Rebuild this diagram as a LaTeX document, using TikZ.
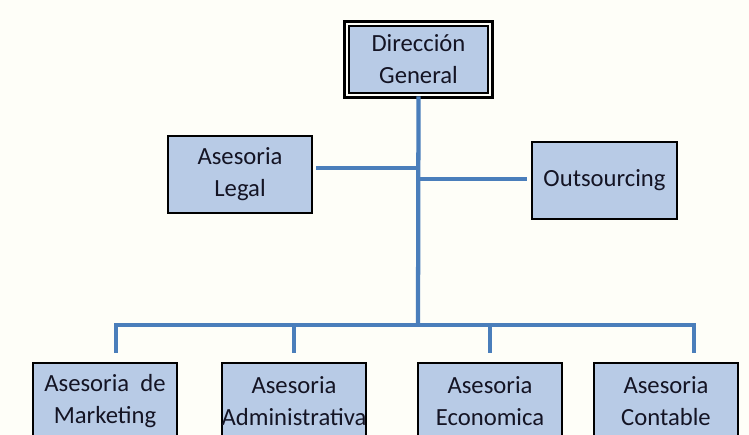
\documentclass[tikz,border=0pt]{standalone}
\usepackage{fontspec}
\setmainfont{Carlito}
\usepackage{xcolor}
\usepackage{tikz}
\definecolor{paper}{HTML}{FEFEF8}
\definecolor{boxblue}{HTML}{B8CBE6}
\definecolor{linkblue}{HTML}{4A7EBB}
\definecolor{inknavy}{HTML}{141424}

\begin{document}
\begin{tikzpicture}[x=0.75pt,y=-0.75pt,
    unit/.style={draw=black,line width=1.5pt,fill=boxblue,text=inknavy,align=center,
      minimum width=108.5pt,minimum height=57.5pt,inner xsep=0pt,inner ysep=1pt,
      font=\fontsize{18.5}{24}\selectfont},
    link/.style={draw=linkblue,line width=3.2pt}]
                            \useasboundingbox (0,0) rectangle (749,435);
                            \clip (0,0) rectangle (749,435);
                            \fill[paper] (0,0) rectangle (749,435);
                            % top box with its double frame
                            \node[unit,minimum width=104pt,minimum height=50pt,line width=1.2pt] (dg) at (418.5,59.5) {Dirección\\General};
                            \draw[line width=2.4pt] ([shift={(-4,-4)}]dg.north west) rectangle ([shift={(4,4)}]dg.south east);
                            \node[unit] (legal) at (240,174.5) {Asesoria\\Legal};
                            \node[unit] (outs) at (604.5,180.5) {Outsourcing};
                            \node[unit] (mkt) at (105,401) {Asesoria\ \ de\\Marketing};
                            \node[unit] (adm) at (294,401) {Asesoria\\Administrativa};
                            \node[unit] (eco) at (490,401) {Asesoria\\Economica};
                            \node[unit] (cont) at (666,401) {Asesoria\\Contable};
                            \coordinate (trunk) at (418,325);
                            \coordinate (barL) at (116,325);
                            \coordinate (barR) at (694,325);
                            % connectors
                            \draw[link] ([yshift=-2pt]dg.south) -- (trunk);
                            \draw[link] ([shift={(3,-6.5)}]legal.east) -- (418,168);
                            \draw[link] (418,179) -- ([shift={(-4,-1.5)}]outs.west);
                            \draw[link,line cap=rect] (barL) -- (barR);
                            \draw[link] (barL) -- ([shift={(11,-9)}]mkt.north);
                            \draw[link] (barR) -- ([shift={(28,-9)}]cont.north);
                            \foreach \unit in {adm, eco}
                            \draw[link] (\unit.north |- trunk) -- ([yshift=6.75pt]\unit.north);
                        \end{tikzpicture}
\end{document}
